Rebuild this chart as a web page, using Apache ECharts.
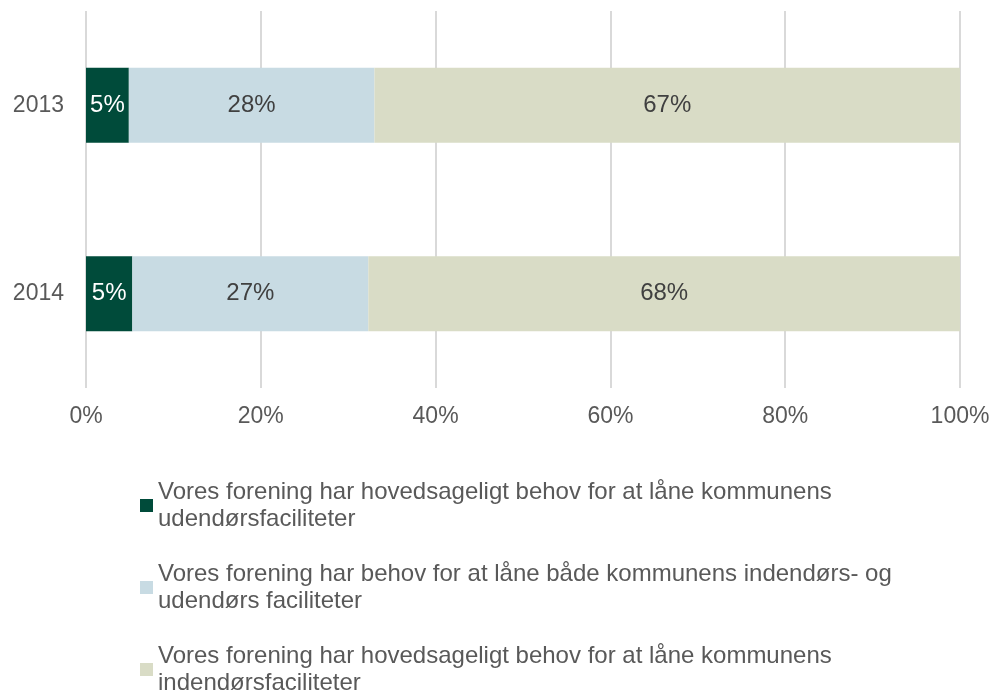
<!DOCTYPE html>
<html>
<head>
<meta charset="utf-8">
<script src="https://cdn.jsdelivr.net/npm/echarts@6/dist/echarts.min.js"></script>
<style>
  html, body { margin: 0; padding: 0; background: #fff; }
  #main { width: 994px; height: 690px; }
</style>
</head>
<body>
<div id="main"></div>
<script>
var years = ['2013', '2014'];

var seriesNames = [
    'Vores forening har hovedsageligt behov for at låne kommunens udendørsfaciliteter',
    'Vores forening har behov for at låne både kommunens indendørs- og udendørs faciliteter',
    'Vores forening har hovedsageligt behov for at låne kommunens indendørsfaciliteter'
];
// legend text, broken where the reference wraps it
var legendLabels = [
    'Vores forening har hovedsageligt behov for at låne kommunens\nudendørsfaciliteter',
    'Vores forening har behov for at låne både kommunens indendørs- og\nudendørs faciliteter',
    'Vores forening har hovedsageligt behov for at låne kommunens\nindendørsfaciliteter'
];

// shares in percent, per year (2013, 2014)
var udendors = [4.9, 5.3];
var begge = [28.1, 27.0];
var indendors = [67.0, 67.7];

var xTicks = [0, 20, 40, 60, 80, 100];

var colors = ['#004b3a', '#c8dbe3', '#d9dcc6'];
var font = 'Liberation Sans, Arial, sans-serif';

var myChart = echarts.init(document.getElementById('main'));

function makeSeries(i, data, labelColor) {
    return {
        name: seriesNames[i],
        type: 'bar',
        stack: 'total',
        barWidth: 75,
        data: data,
        itemStyle: {color: colors[i]},
        label: {
            show: true,
            position: 'inside',
            color: labelColor,
            fontFamily: font,
            fontSize: 24,
            formatter: function (p) {
                return Math.round(p.value) + '%';
            }
        },
        emphasis: {disabled: true}
    };
}

var option = {
    animation: false,
    color: colors,
    grid: {
        left: 86,
        right: 34,
        top: 11,
        bottom: 302,
        containLabel: false
    },
    xAxis: {
        type: 'value',
        min: xTicks[0],
        max: xTicks[xTicks.length - 1],
        interval: 20,
        axisLine: {show: false},
        axisTick: {show: false},
        axisLabel: {
            margin: 17,
            color: '#595959',
            fontFamily: font,
            fontSize: 23,
            formatter: '{value}%'
        },
        splitLine: {
            show: true,
            lineStyle: {color: '#d9d9d9', width: 2}
        }
    },
    yAxis: {
        type: 'category',
        inverse: true,
        data: years,
        axisLine: {show: false},
        axisTick: {show: false},
        axisLabel: {
            margin: 22,
            color: '#595959',
            fontFamily: font,
            fontSize: 23
        }
    },
    legend: {
        orient: 'vertical',
        left: 135,
        top: 467,
        height: 260,
        itemWidth: 13,
        itemHeight: 13,
        itemGap: 15,
        icon: 'rect',
        selectedMode: false,
        data: seriesNames,
        formatter: function (name) {
            return legendLabels[seriesNames.indexOf(name)];
        },
        textStyle: {
            color: '#595959',
            fontFamily: font,
            fontSize: 24,
            lineHeight: 27,
            padding: [13, 0, 0, 0]
        }
    },
    series: [
        makeSeries(0, udendors, '#ffffff'),
        makeSeries(1, begge, '#404040'),
        makeSeries(2, indendors, '#404040')
    ]
};

myChart.setOption(option);
</script>
</body>
</html>
